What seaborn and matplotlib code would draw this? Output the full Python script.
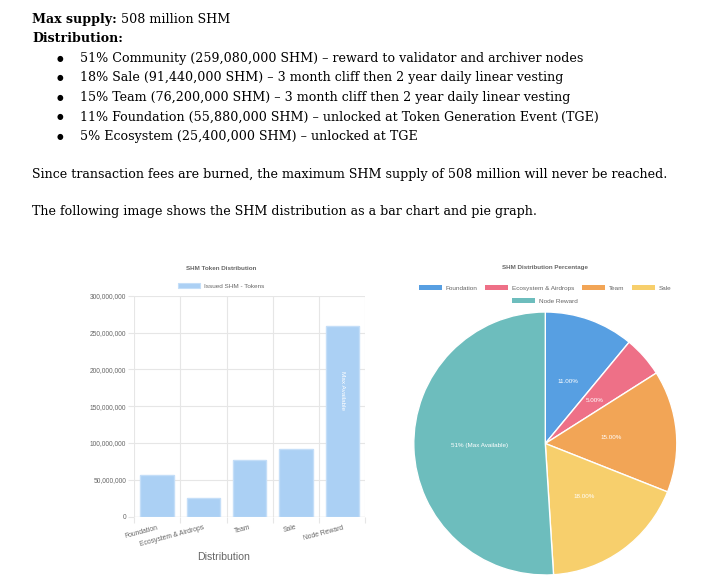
import numpy as np
import pandas as pd
import matplotlib
matplotlib.use("Agg")
import matplotlib.pyplot as plt
import matplotlib.patches as mpatches
from matplotlib.ticker import FuncFormatter, MultipleLocator
import seaborn as sns

# document text
heading_label = "Max supply:"
heading_value = " 508 million SHM"
dist_heading = "Distribution:"
bullets = [
    "51% Community (259,080,000 SHM) \u2013 reward to validator and archiver nodes",
    "18% Sale (91,440,000 SHM) \u2013 3 month cliff then 2 year daily linear vesting",
    "15% Team (76,200,000 SHM) \u2013 3 month cliff then 2 year daily linear vesting",
    "11% Foundation (55,880,000 SHM) \u2013 unlocked at Token Generation Event (TGE)",
    "5% Ecosystem (25,400,000 SHM) \u2013 unlocked at TGE",
]
para1 = "Since transaction fees are burned, the maximum SHM supply of 508 million will never be reached."
para2 = "The following image shows the SHM distribution as a bar chart and pie graph."

# chart data
categories = ["Foundation", "Ecosystem & Airdrops", "Team", "Sale", "Node Reward"]
tokens = [55_880_000, 25_400_000, 76_200_000, 91_440_000, 259_080_000]
pie_pct = [11, 5, 15, 18, 51]
pie_colors = ["#579fe2", "#ee7087", "#f2a556", "#f7cf6c", "#6dbdbd"]
bar_color = "#abd0f4"
bar_edge = "#c4def8"

sns.set_theme(style="white")
plt.rcParams["font.family"] = ["Liberation Sans", "DejaVu Sans"]

W, H = 722, 584
fig = plt.figure(figsize=(W / 100, H / 100), dpi=100)
fig.patch.set_facecolor("white")


def fx(px):
    return px / W


def fy(py):
    return 1 - py / H


serif = ["DejaVu Serif"]
doc_size = 9.1

t = fig.text(fx(32), fy(22.7), heading_label, family=serif, size=doc_size,
             weight="bold", color="black", va="baseline")
fig.canvas.draw()
bb = t.get_window_extent()
fig.text(bb.x1 / fig.dpi / fig.get_figwidth(), fy(22.7), heading_value,
         family=serif, size=doc_size, color="black", va="baseline")
fig.text(fx(32), fy(41.7), dist_heading, family=serif, size=doc_size,
         weight="bold", color="black", va="baseline")
for i, line in enumerate(bullets):
    yb = 61.7 + i * 19.6
    fig.text(fx(60), fy(yb - 3.5), "\u25cf", family=["DejaVu Sans"], size=5.5,
             color="black", va="center", ha="center")
    fig.text(fx(80), fy(yb), line, family=serif, size=doc_size,
             color="black", va="baseline")
fig.text(fx(32), fy(178.3), para1, family=serif, size=doc_size,
         color="black", va="baseline")
fig.text(fx(32), fy(215.5), para2, family=serif, size=doc_size,
         color="black", va="baseline")

# ---- bar chart ----
grid_c = "#e6e6e6"
lab_c = "#666666"
x0, x1, ytop, ybot = 134, 365.3, 295.7, 516.5
ax = fig.add_axes([fx(x0), fy(ybot), fx(x1 - x0), (ybot - ytop) / H])
df = pd.DataFrame({"Distribution": categories, "Tokens": tokens})
sns.barplot(data=df, x="Distribution", y="Tokens", color=bar_color,
            saturation=1, width=0.72, edgecolor=bar_edge, linewidth=1,
            ax=ax, zorder=3)
ax.set_xlim(-0.5, len(categories) - 0.5)
ax.set_ylim(0, 300_000_000)
ax.yaxis.set_major_locator(MultipleLocator(50_000_000))
ax.yaxis.set_major_formatter(FuncFormatter(lambda v, p: f"{int(v):,}"))
ax.set_xticks(np.arange(-0.5, len(categories)), minor=True)
ax.grid(True, axis="y", color=grid_c, lw=0.8, zorder=0)
ax.grid(True, axis="x", which="minor", color=grid_c, lw=0.8, zorder=0)
ax.grid(False, axis="x", which="major")
for s in ax.spines.values():
    s.set_visible(False)
ax.axhline(0, color="#dddddd", lw=0.9, zorder=2)
ax.tick_params(axis="y", length=4, width=0.8, color=grid_c, pad=1.5,
               labelsize=4.8, labelcolor=lab_c, left=True)
ax.tick_params(axis="x", which="minor", length=4, width=0.8, color=grid_c,
               bottom=True)
ax.tick_params(axis="x", which="major", length=0, pad=5.5, labelsize=4.9,
               labelcolor=lab_c)
for lbl in ax.get_xticklabels():
    lbl.set_rotation(15)
    lbl.set_ha("right")
    lbl.set_va("top")
    lbl.set_rotation_mode("anchor")
ax.set_xlabel("")
ax.set_ylabel("")
nr = categories.index("Node Reward")
ax.text(nr, 0.57, "Max Available", transform=ax.get_xaxis_transform(),
        rotation=-90, color="white", size=4.6, ha="center", va="center",
        zorder=4)
fig.text(fx(223.3), fy(557), "Distribution", size=7.6, color=lab_c,
         ha="center", va="center")
fig.text(fx(221.3), fy(268.3), "SHM Token Distribution", size=4.5,
         weight="bold", color=lab_c, ha="center", va="center")
bar_handle = mpatches.Patch(facecolor=bar_color, edgecolor=bar_edge, lw=0.8)
fig.legend([bar_handle], ["Issued SHM - Tokens"], loc="center",
           bbox_to_anchor=(fx(221.3), fy(286)), frameon=False, fontsize=4.6,
           labelcolor=lab_c, handlelength=3.4, handleheight=0.9,
           handletextpad=0.6, borderpad=0, borderaxespad=0)

# ---- pie chart ----
cx, cy, r = 545.3, 443.5, 131.5
pax = fig.add_axes([fx(cx - r), fy(cy + r), fx(2 * r), 2 * r / H])
wedges, _, autotexts = pax.pie(
    pie_pct, colors=pie_colors, startangle=90, counterclock=False,
    autopct=lambda p: "51% (Max Available)" if p > 50 else f"{p:.2f}%",
    pctdistance=0.5, wedgeprops=dict(edgecolor="white", linewidth=1),
    textprops=dict(color="white", size=4.5))
pax.set_xlim(-1, 1)
pax.set_ylim(-1, 1)
pax.set_aspect("auto")
pax.axis("off")
fig.text(fx(545), fy(267.7), "SHM Distribution Percentage", size=4.5,
         weight="bold", color=lab_c, ha="center", va="center")
handles = [mpatches.Patch(facecolor=c, edgecolor="none") for c in pie_colors]
fig.legend(handles[:4], categories[:4], loc="center", ncol=4,
           bbox_to_anchor=(fx(545), fy(288)), frameon=False, fontsize=4.6,
           labelcolor=lab_c, handlelength=3.6, handleheight=0.9,
           handletextpad=0.6, columnspacing=1.2, borderpad=0, borderaxespad=0)
fig.legend(handles[4:], categories[4:], loc="center", ncol=1,
           bbox_to_anchor=(fx(545), fy(301)), frameon=False, fontsize=4.6,
           labelcolor=lab_c, handlelength=3.6, handleheight=0.9,
           handletextpad=0.6, borderpad=0, borderaxespad=0)

fig.savefig("out.png", dpi=100)
